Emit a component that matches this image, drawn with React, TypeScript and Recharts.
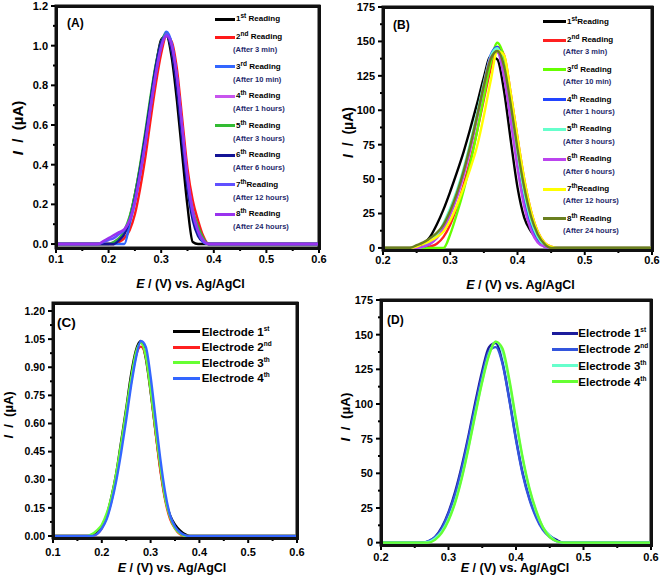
import React from "react";
import { LineChart, Line, XAxis, YAxis, Legend, ReferenceArea } from "recharts";

const FONT = '"Liberation Sans", Arial, Helvetica, sans-serif';

// (A) stability, 8 readings, I in µA
const E_A = [0.1, 0.17, 0.18, 0.19, 0.2, 0.21, 0.22, 0.23, 0.24, 0.25, 0.26, 0.27, 0.28, 0.29, 0.3, 0.31, 0.32, 0.33, 0.34, 0.35, 0.36, 0.37, 0.38, 0.39, 0.4, 0.6];
const A1 = [0, 0, 0, 0, 0, 0, 0.02, 0.06, 0.13, 0.25, 0.39, 0.55, 0.73, 0.9, 1.03, 1.05, 0.94, 0.72, 0.45, 0.19, 0.01, 0, 0, 0, 0, 0];
const A2 = [0, 0, 0, 0, 0, 0, 0.01, 0.03, 0.07, 0.15, 0.28, 0.44, 0.63, 0.81, 0.96, 1.05, 1.02, 0.88, 0.63, 0.38, 0.22, 0.12, 0.04, 0, 0, 0];
const A3 = [0, 0, 0, 0, 0, 0, 0, 0, 0.1, 0.21, 0.35, 0.51, 0.69, 0.86, 1.0, 1.07, 1.01, 0.84, 0.57, 0.31, 0.15, 0.06, 0.01, 0, 0, 0];
const A4 = [0, 0, 0, 0, 0, 0.01, 0.03, 0.06, 0.12, 0.22, 0.36, 0.52, 0.7, 0.87, 1.0, 1.05, 0.99, 0.83, 0.58, 0.33, 0.17, 0.07, 0.02, 0, 0, 0];
const A5 = [0, 0, 0, 0, 0, 0.01, 0.03, 0.07, 0.14, 0.25, 0.4, 0.57, 0.75, 0.91, 1.02, 1.06, 0.98, 0.8, 0.55, 0.31, 0.17, 0.09, 0.03, 0, 0, 0];
const A6 = [0, 0, 0, 0, 0, 0, 0.02, 0.05, 0.12, 0.23, 0.38, 0.55, 0.73, 0.9, 1.02, 1.05, 0.97, 0.78, 0.52, 0.28, 0.12, 0.04, 0.01, 0, 0, 0];
const A7 = [0, 0, 0, 0.01, 0.02, 0.03, 0.05, 0.07, 0.12, 0.22, 0.36, 0.52, 0.7, 0.87, 1.0, 1.06, 1.01, 0.84, 0.58, 0.32, 0.15, 0.06, 0.01, 0, 0, 0];
const A8 = [0, 0, 0, 0.015, 0.03, 0.045, 0.06, 0.075, 0.12, 0.21, 0.35, 0.51, 0.69, 0.86, 0.99, 1.05, 1.0, 0.84, 0.59, 0.34, 0.17, 0.07, 0.02, 0, 0, 0];
const A_COLORS = ["#000000", "#ff1a1a", "#3366ff", "#c855ee", "#33bb33", "#141496", "#6050ff", "#9933ee"];

// (B) 8 readings, I in µA
const E_B = [0.2, 0.24, 0.25, 0.26, 0.27, 0.28, 0.29, 0.3, 0.31, 0.32, 0.33, 0.34, 0.35, 0.36, 0.37, 0.38, 0.39, 0.4, 0.41, 0.42, 0.43, 0.44, 0.45, 0.46, 0.6];
const B1 = [0, 0, 1, 3, 8, 17, 28, 41, 55, 70, 87, 105, 124, 139, 137, 114, 78, 44, 22, 12, 6, 2, 0, 0, 0];
const B2 = [0, 0, 0, 0, 1, 3, 8, 17, 30, 46, 64, 85, 108, 130, 146, 140, 112, 80, 50, 27, 12, 4, 1, 0, 0];
const B3 = [0, 0, 0, 0, 0, 0, 0, 10, 25, 42, 62, 85, 110, 134, 149, 138, 110, 78, 48, 25, 10, 3, 0, 0, 0];
const B4 = [0, 0, 0, 1, 3, 8, 16, 26, 39, 55, 74, 96, 119, 140, 146, 128, 96, 62, 34, 16, 6, 1, 0, 0, 0];
const B5 = [0, 0, 0, 1, 4, 9, 18, 29, 42, 58, 77, 98, 120, 139, 145, 132, 102, 68, 40, 20, 8, 2, 0, 0, 0];
const B6 = [0, 0, 0, 1, 3, 7, 14, 24, 37, 53, 72, 95, 118, 138, 142, 124, 92, 58, 30, 13, 4, 1, 0, 0, 0];
const B7 = [0, 0, 1, 3, 5, 8, 12, 20, 31, 44, 58, 74, 96, 121, 143, 140, 112, 80, 50, 27, 12, 4, 1, 0, 0];
const B8 = [0, 0, 2, 4, 7, 11, 17, 27, 40, 56, 75, 96, 118, 137, 143, 132, 104, 72, 44, 23, 10, 3, 0, 0, 0];
const B_COLORS = ["#000000", "#ff2020", "#66ff00", "#2244ff", "#66ffcc", "#bb44ee", "#ffff00", "#6a7f1f"];

// (C) 4 electrodes
const E_C = [0.1, 0.16, 0.17, 0.18, 0.19, 0.2, 0.21, 0.22, 0.23, 0.24, 0.25, 0.26, 0.27, 0.28, 0.29, 0.3, 0.31, 0.32, 0.33, 0.34, 0.35, 0.36, 0.37, 0.38, 0.39, 0.6];
const C1 = [0, 0, 0, 0.005, 0.02, 0.05, 0.11, 0.21, 0.34, 0.51, 0.68, 0.86, 0.99, 1.04, 0.95, 0.77, 0.56, 0.36, 0.2, 0.11, 0.06, 0.03, 0.01, 0, 0, 0];
const C2 = [0, 0, 0, 0, 0.01, 0.04, 0.1, 0.19, 0.32, 0.48, 0.65, 0.82, 0.96, 1.01, 0.96, 0.78, 0.56, 0.35, 0.19, 0.09, 0.04, 0.01, 0, 0, 0, 0];
const C3 = [0, 0, 0, 0.01, 0.03, 0.06, 0.12, 0.21, 0.34, 0.5, 0.67, 0.84, 0.98, 1.03, 0.96, 0.78, 0.57, 0.37, 0.2, 0.1, 0.04, 0.015, 0, 0, 0, 0];
const C4 = [0, 0, 0, 0, 0.01, 0.04, 0.09, 0.18, 0.3, 0.45, 0.62, 0.8, 0.95, 1.04, 1.01, 0.85, 0.63, 0.41, 0.23, 0.11, 0.05, 0.02, 0.005, 0, 0, 0];
const C_COLORS = ["#000000", "#ff2020", "#66ff33", "#3366ff"];

// (D) 4 electrodes
const E_D = [0.2, 0.26, 0.27, 0.28, 0.29, 0.3, 0.31, 0.32, 0.33, 0.34, 0.35, 0.36, 0.37, 0.38, 0.39, 0.4, 0.41, 0.42, 0.43, 0.44, 0.45, 0.46, 0.47, 0.48, 0.6];
const D1 = [0, 0, 1, 4, 11, 22, 37, 56, 78, 102, 124, 141, 144, 130, 104, 75, 50, 32, 19, 10, 5, 2, 0, 0, 0];
const D2 = [0, 0, 1, 4, 10, 21, 35, 54, 76, 99, 121, 138, 141, 129, 103, 74, 49, 31, 18, 9, 4, 1, 0, 0, 0];
const D3 = [0, 0, 0.5, 3, 8, 17, 30, 48, 70, 94, 117, 136, 145, 138, 116, 87, 60, 38, 22, 11, 5, 1, 0, 0, 0];
const D4 = [0, 0, 0, 2, 7, 16, 29, 47, 69, 93, 116, 135, 145, 140, 118, 89, 61, 39, 23, 11, 4, 1, 0, 0, 0];
const D_COLORS = ["#1c1c9c", "#3355dd", "#66ffcc", "#66ff33"];

// ticks
const X1_MAJOR = [0.1, 0.2, 0.3, 0.4, 0.5, 0.6];
const X1_MINOR = [0.15, 0.25, 0.35, 0.45, 0.55];
const X2_MAJOR = [0.2, 0.3, 0.4, 0.5, 0.6];
const X2_MINOR = [0.25, 0.35, 0.45, 0.55];
const YA_MAJOR = [0, 0.2, 0.4, 0.6, 0.8, 1.0, 1.2];
const YA_MINOR = [0.1, 0.3, 0.5, 0.7, 0.9, 1.1];
const YB_MAJOR = [0, 25, 50, 75, 100, 125, 150, 175];
const YB_MINOR = [12.5, 37.5, 62.5, 87.5, 112.5, 137.5, 162.5];
const YC_MAJOR = [0, 0.15, 0.3, 0.45, 0.6, 0.75, 0.9, 1.05, 1.2];
const YC_MINOR = [0.075, 0.225, 0.375, 0.525, 0.675, 0.825, 0.975, 1.125];

// legend text
const ORDS = ["1", "2", "3", "4", "5", "6", "7", "8"];
const SUPS = ["st", "nd", "rd", "th", "th", "th", "th", "th"];
const WORDS_A = [" Reading", " Reading", " Reading", " Reading", " Reading", " Reading", "Reading", " Reading"];
const WORDS_B = ["Reading", " Reading", " Reading", " Reading", " Reading", " Reading", "Reading", " Reading"];
const NOTES = ["", "(After 3 min)", "(After 10 min)", "(After 1 hours)", "(After 3 hours)", "(After 6 hours)", "(After 12 hours)", "(After 24 hours)"];
const EL_SUPS = ["st", "nd", "th", "th"];

const AXIS_W = 40;
const AXIS_H = 30;

const isIn = (list: number[], v: number) => list.some((m) => Math.abs(m - v) < 1e-9);

const XTick = (props: any) => {
  const { x, y, payload, majors, fmt, labelDy } = props;
  const major = isIn(majors, payload.value);
  return (
    <g>
      <line x1={x} x2={x} y1={y} y2={y + (major ? 5 : 3)} stroke="#000" strokeWidth={2} />
      {major && (
        <text x={x} y={y + labelDy} dy="0.35em" textAnchor="middle" fontSize={11} fontWeight="bold" fontFamily={FONT} fill="#000">
          {fmt(payload.value)}
        </text>
      )}
    </g>
  );
};

const YTick = (props: any) => {
  const { x, y, payload, majors, fmt, size } = props;
  const major = isIn(majors, payload.value);
  return (
    <g>
      <line x1={x - (major ? 5 : 3)} x2={x} y1={y} y2={y} stroke="#000" strokeWidth={2} />
      {major && (
        <text x={x - 8} y={y} dy="0.35em" textAnchor="end" fontSize={size} fontWeight="bold" fontFamily={FONT} fill="#000">
          {fmt(payload.value)}
        </text>
      )}
    </g>
  );
};

const XTitle = (props: any) => {
  const vb = props.viewBox || { x: 0, y: 0, width: 0 };
  return (
    <text x={vb.x + vb.width / 2 + props.tx} y={vb.y + props.ty} dy="0.35em" textAnchor="middle" fontSize={props.size} fontWeight="bold" fontFamily={FONT} fill="#000">
      <tspan fontStyle="italic">E</tspan>
      {" / (V) vs. Ag/AgCl"}
    </text>
  );
};

const YTitle = (props: any) => {
  const vb = props.viewBox || { x: 0, y: 0, width: 0, height: 0 };
  const cx = vb.x + vb.width + props.tx;
  const cy = vb.y + vb.height / 2 + props.ty;
  return (
    <text x={cx} y={cy} dy="0.35em" textAnchor="middle" transform={`rotate(-90 ${cx} ${cy})`} fontSize={props.size} fontWeight="bold" fontFamily={FONT} fill="#000">
      <tspan fontStyle="italic">I</tspan>
      {"\u00a0\u00a0/\u00a0\u00a0(\u00b5A)"}
    </text>
  );
};

// frame + panel tag, drawn from the reference area's box (= full plot box)
const FrameTag = (props: any) => {
  const vb = props.viewBox || { x: 0, y: 0, width: 0, height: 0 };
  return (
    <g>
      <rect x={vb.x} y={vb.y} width={vb.width} height={vb.height} fill="none" stroke="#111" strokeWidth={3} />
      <text x={vb.x + props.tx} y={vb.y + props.ty} dy="0.35em" fontSize={props.size} fontWeight="bold" fontFamily={FONT} fill="#000">
        {props.text}
      </text>
    </g>
  );
};

function ReadingLegend({ colors, words, swatchX, swatchW, textX, noteX, first, gap0, gap, noteDy }: any) {
  return (
    <div style={{ position: "relative", width: 120, height: 240, fontFamily: FONT, fontWeight: "bold" }}>
      {colors.map((c: string, i: number) => {
        const cy = i === 0 ? first : first + gap0 + (i - 1) * gap;
        return (
          <React.Fragment key={i}>
            <div style={{ position: "absolute", left: swatchX, top: cy - 1.5, width: swatchW, height: 3, background: c }} />
            <div style={{ position: "absolute", left: textX, top: cy - 6, height: 12, lineHeight: "12px", fontSize: 8, whiteSpace: "pre", color: "#000" }}>
              {ORDS[i]}
              <span style={{ fontSize: 6.5, position: "relative", top: -3 }}>{SUPS[i]}</span>
              {words[i]}
            </div>
            {NOTES[i] && (
              <div style={{ position: "absolute", left: noteX, top: cy + noteDy - 6, height: 12, lineHeight: "12px", fontSize: 7.5, whiteSpace: "pre", color: "#1f2a6b" }}>
                {NOTES[i]}
              </div>
            )}
          </React.Fragment>
        );
      })}
    </div>
  );
}

function ElectrodeLegend({ colors, swatchX, swatchW, textX, first, gap }: any) {
  return (
    <div style={{ position: "relative", width: 120, height: 100, fontFamily: FONT, fontWeight: "bold" }}>
      {colors.map((c: string, i: number) => {
        const cy = first + i * gap;
        return (
          <React.Fragment key={i}>
            <div style={{ position: "absolute", left: swatchX, top: cy - 1.5, width: swatchW, height: 3, background: c }} />
            <div style={{ position: "absolute", left: textX, top: cy - 7, height: 14, lineHeight: "14px", fontSize: 11.5, whiteSpace: "pre", color: "#000" }}>
              {"Electrode " + (i + 1)}
              <span style={{ fontSize: 6.5, position: "relative", top: -5 }}>{EL_SUPS[i]}</span>
            </div>
          </React.Fragment>
        );
      })}
    </div>
  );
}

function Panel(p: any) {
  const rows = p.E.map((e: number, i: number) => {
    const row: any = { E: e };
    p.series.forEach((s: number[], k: number) => {
      row["s" + k] = s[i];
    });
    return row;
  });
  // plot box, from the chart's margins and axis sizes
  const bx = p.margin.left + AXIS_W;
  const by = p.margin.top;
  const bw = p.width - p.margin.right - bx;
  const bh = p.height - p.margin.bottom - AXIS_H - by;
  return (
    <div style={{ position: "absolute", left: p.left, top: p.top, width: p.width, height: p.height }}>
      <LineChart width={p.width} height={p.height} data={rows} margin={p.margin} style={{ fontFamily: FONT }}>
        <XAxis
          dataKey="E"
          type="number"
          domain={p.xDomain}
          allowDataOverflow
          ticks={[...p.xMajor, ...p.xMinor]}
          interval={0}
          height={AXIS_H}
          tickSize={0}
          tickMargin={0}
          tickLine={false}
          axisLine={false}
          tick={(t: any) => <XTick {...t} majors={p.xMajor} fmt={(v: number) => v.toFixed(1)} labelDy={p.xTickDy} />}
          label={<XTitle tx={p.xTitleDx} ty={p.xTitleDy} size={p.xTitleSize} />}
        />
        <YAxis
          type="number"
          domain={p.yDomain}
          allowDataOverflow
          ticks={[...p.yMajor, ...p.yMinor]}
          interval={0}
          width={AXIS_W}
          tickSize={0}
          tickMargin={0}
          tickLine={false}
          axisLine={false}
          tick={(t: any) => <YTick {...t} majors={p.yMajor} fmt={p.yFmt} size={p.yTickSize} />}
          label={<YTitle tx={p.yTitleDx} ty={p.yTitleDy} size={p.yTitleSize} />}
        />
        <Legend
          layout="vertical"
          align="center"
          verticalAlign="middle"
          wrapperStyle={{ left: p.legendLeft, top: p.legendTop, width: 125, height: p.legendHeight }}
          content={() => p.legend}
        />
        {p.series.map((_: number[], k: number) => (
          <Line
            key={k}
            dataKey={"s" + k}
            type="monotone"
            stroke={p.colors[k]}
            strokeWidth={2.4}
            dot={false}
            activeDot={false}
            isAnimationActive={false}
          />
        ))}
        <ReferenceArea
          x1={p.xDomain[0]}
          x2={p.xDomain[1]}
          y1={p.yDomain[0]}
          y2={p.yDomain[1]}
          fill="none"
          fillOpacity={0}
          stroke="none"
          ifOverflow="visible"
          label={<FrameTag text={p.tag} tx={p.tagDx} ty={p.tagDy} size={p.tagSize} />}
        />
      </LineChart>
      <div
        style={{
          position: "absolute",
          left: bx - 1.5,
          top: by - 1.5,
          width: bw + 3,
          height: bh + 3,
          border: "3px solid #111",
          boxSizing: "border-box",
          pointerEvents: "none",
        }}
      />
    </div>
  );
}

export default function App() {
  return (
    <div style={{ position: "absolute", left: 0, top: 0, width: 661, height: 585, background: "#fff", overflow: "hidden" }}>
      <Panel
        left={0} top={0} width={330} height={296}
        margin={{ top: 6, right: 11, left: 16, bottom: 18 }}
        E={E_A} series={[A1, A2, A3, A4, A5, A6, A7, A8]} colors={A_COLORS}
        xDomain={[0.1, 0.6]} xMajor={X1_MAJOR} xMinor={X1_MINOR} xTickDy={11}
        yDomain={[-0.02, 1.2]} yMajor={YA_MAJOR} yMinor={YA_MINOR} yFmt={(v: number) => v.toFixed(1)} yTickSize={11}
        xTitleDx={3} xTitleDy={36} xTitleSize={12.5}
        yTitleDx={-38} yTitleDy={1} yTitleSize={15}
        tag="(A)" tagDx={11} tagDy={17} tagSize={12}
        legendLeft={210} legendTop={0} legendHeight={240}
        legend={<ReadingLegend colors={A_COLORS} words={WORDS_A} swatchX={5} swatchW={20} textX={26} noteX={23} first={19.3} gap0={18} gap={29.5} noteDy={13} />}
      />
      <Panel
        left={330} top={0} width={331} height={296}
        margin={{ top: 7, right: 9, left: 13, bottom: 16 }}
        E={E_B} series={[B1, B2, B3, B4, B5, B6, B7, B8]} colors={B_COLORS}
        xDomain={[0.2, 0.6]} xMajor={X2_MAJOR} xMinor={X2_MINOR} xTickDy={10}
        yDomain={[-1.5, 175]} yMajor={YB_MAJOR} yMinor={YB_MINOR} yFmt={(v: number) => String(v)} yTickSize={11}
        xTitleDx={3} xTitleDy={35} xTitleSize={12.5}
        yTitleDx={-35} yTitleDy={4} yTitleSize={14}
        tag="(B)" tagDx={10} tagDy={18} tagSize={12}
        legendLeft={210} legendTop={0} legendHeight={240}
        legend={<ReadingLegend colors={B_COLORS} words={WORDS_B} swatchX={3} swatchW={23} textX={27} noteX={23} first={21.7} gap0={18.3} gap={29.8} noteDy={12.4} />}
      />
      <Panel
        left={0} top={290} width={330} height={295}
        margin={{ top: 13, right: 33, left: 13, bottom: 17 }}
        E={E_C} series={[C1, C2, C3, C4]} colors={C_COLORS}
        xDomain={[0.1, 0.6]} xMajor={X1_MAJOR} xMinor={X1_MINOR} xTickDy={14}
        yDomain={[-0.0107, 1.2427]} yMajor={YC_MAJOR} yMinor={YC_MINOR} yFmt={(v: number) => v.toFixed(2)} yTickSize={10.5}
        xTitleDx={-3} xTitleDy={30} xTitleSize={12.5}
        yTitleDx={-45} yTitleDy={-5.5} yTitleSize={13}
        tag="(C)" tagDx={4} tagDy={19} tagSize={13.5}
        legendLeft={170} legendTop={0} legendHeight={100}
        legend={<ElectrodeLegend colors={C_COLORS} swatchX={3} swatchW={27} textX={31.7} first={41.7} gap={15.5} />}
      />
      <Panel
        left={330} top={290} width={331} height={295}
        margin={{ top: 10, right: 10, left: 11, bottom: 10 }}
        E={E_D} series={[D1, D2, D3, D4]} colors={D_COLORS}
        xDomain={[0.2, 0.6]} xMajor={X2_MAJOR} xMinor={X2_MINOR} xTickDy={12}
        yDomain={[-1.7, 175]} yMajor={YB_MAJOR} yMinor={YB_MINOR} yFmt={(v: number) => String(v)} yTickSize={11}
        xTitleDx={-1} xTitleDy={23} xTitleSize={12.5}
        yTitleDx={-36} yTitleDy={-5.5} yTitleSize={13.5}
        tag="(D)" tagDx={6} tagDy={20} tagSize={12}
        legendLeft={220} legendTop={0} legendHeight={100}
        legend={<ElectrodeLegend colors={D_COLORS} swatchX={1.7} swatchW={26.6} textX={28.3} first={43.3} gap={16.1} />}
      />
    </div>
  );
}
